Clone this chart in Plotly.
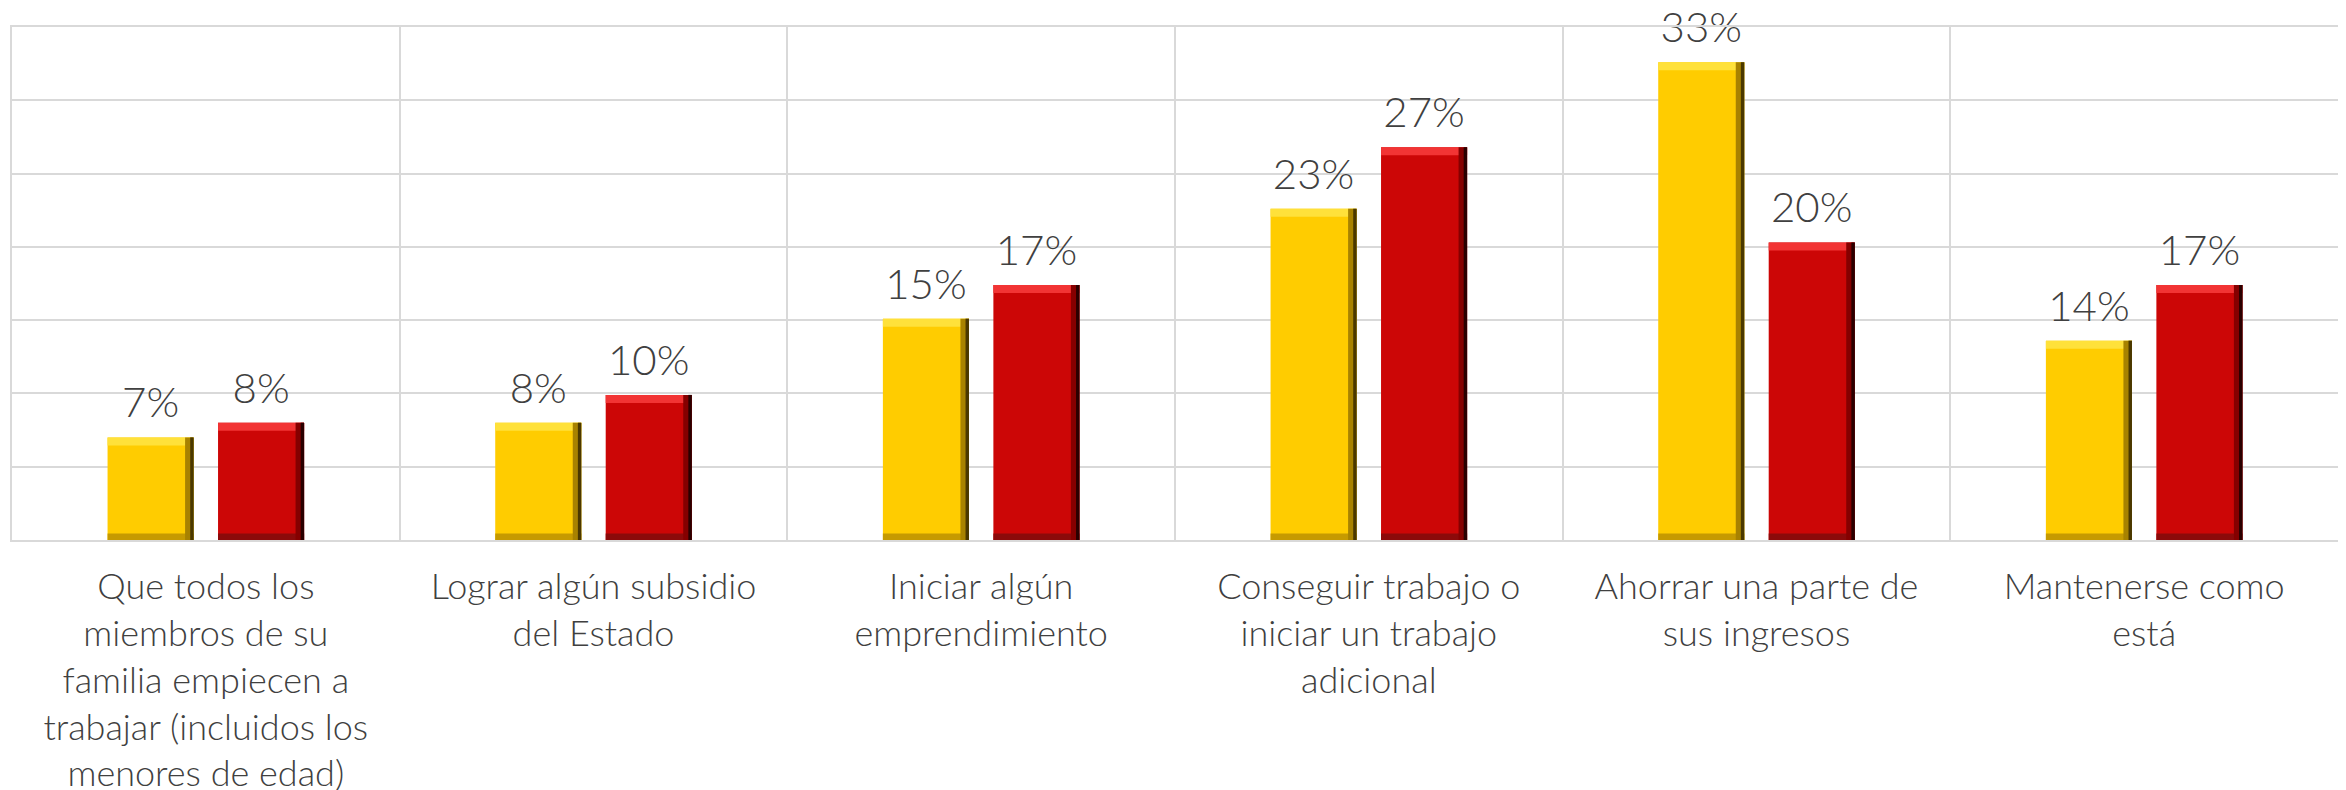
import plotly.graph_objects as go

categories = [
    "Que todos los<br>miembros de su<br>familia empiecen a<br>trabajar (incluidos los<br>menores de edad)",
    "Lograr algún subsidio<br>del Estado",
    "Iniciar algún<br>emprendimiento",
    "Conseguir trabajo o<br>iniciar un trabajo<br>adicional",
    "Ahorrar una parte de<br>sus ingresos",
    "Mantenerse como<br>está",
]
serie_amarilla = [7.0, 8.0, 15.1, 22.6, 32.6, 13.6]
serie_roja = [8.0, 9.9, 17.4, 26.8, 20.3, 17.4]

def labels(vals):
    return [f"{round(v):d}%" for v in vals]

FONT = "Lato, 'Open Sans', sans-serif"
TXT = "#404040"
GRID = "#D9D9D9"

BAR_W = 0.222          # bar width (category units)
EDGE = 0.022           # bevel edge width (category units)
TOP_H = 0.55           # bevel top strip (value units)
BOT_H = 0.45           # bevel bottom strip (value units)
LIFT = 0.55            # gap between bar top and its label (value units)

styles = [
    # values, offset, main, top light, bottom dark, right mid, right dark
    (serie_amarilla, -0.2535, "#FFCC00", "#FFE13A", "#C69A00", "#A88200", "#4A3800"),
    (serie_roja, 0.0315, "#CC0606", "#F23434", "#8B0A0A", "#850000", "#2A0000"),
]

fig = go.Figure()
n = len(categories)
for vals, off, main, light, dark, rmid, rdark in styles:
    common = dict(x=categories, showlegend=False, hoverinfo="skip", marker_line_width=0)
    fig.add_trace(go.Bar(y=vals, offset=off, width=BAR_W, marker_color=main, **common))
    fig.add_trace(go.Bar(y=[TOP_H] * n, base=[v - TOP_H for v in vals], offset=off,
                         width=BAR_W, marker_color=light, **common))
    fig.add_trace(go.Bar(y=[BOT_H] * n, offset=off, width=BAR_W, marker_color=dark, **common))
    fig.add_trace(go.Bar(y=vals, offset=off + BAR_W - EDGE, width=EDGE,
                         marker_color=rmid, **common))
    fig.add_trace(go.Bar(y=vals, offset=off + BAR_W - EDGE / 2.5, width=EDGE / 2.5,
                         marker_color=rdark, **common))
    fig.add_trace(go.Bar(y=[LIFT] * n, base=vals, offset=off, width=BAR_W,
                         marker_color="rgba(0,0,0,0)", text=labels(vals),
                         textposition="outside", constraintext="none", cliponaxis=False,
                         textfont=dict(size=42, color=TXT, family=FONT, weight=300),
                         **common))

fig.update_layout(
    width=2338, height=782,
    margin=dict(l=4, r=8, t=19, b=250, autoexpand=False),
    paper_bgcolor="white", plot_bgcolor="white",
    barmode="overlay",
    font=dict(family=FONT, color=TXT),
)
fig.update_xaxes(
    tickson="boundaries", showgrid=True, gridcolor=GRID, gridwidth=2,
    ticks="", tickfont=dict(size=36, color=TXT, family=FONT, weight=300),
    ticklabelstandoff=14,
    showline=True, linecolor=GRID, linewidth=2, mirror=True,
    tickangle=0, automargin=False,
)
fig.update_yaxes(
    range=[0, 35], dtick=5, showgrid=True, gridcolor=GRID, gridwidth=2,
    showticklabels=False, ticks="", zeroline=False,
    showline=True, linecolor=GRID, linewidth=2, mirror=True, automargin=False,
)

fig.write_html("out.html")
